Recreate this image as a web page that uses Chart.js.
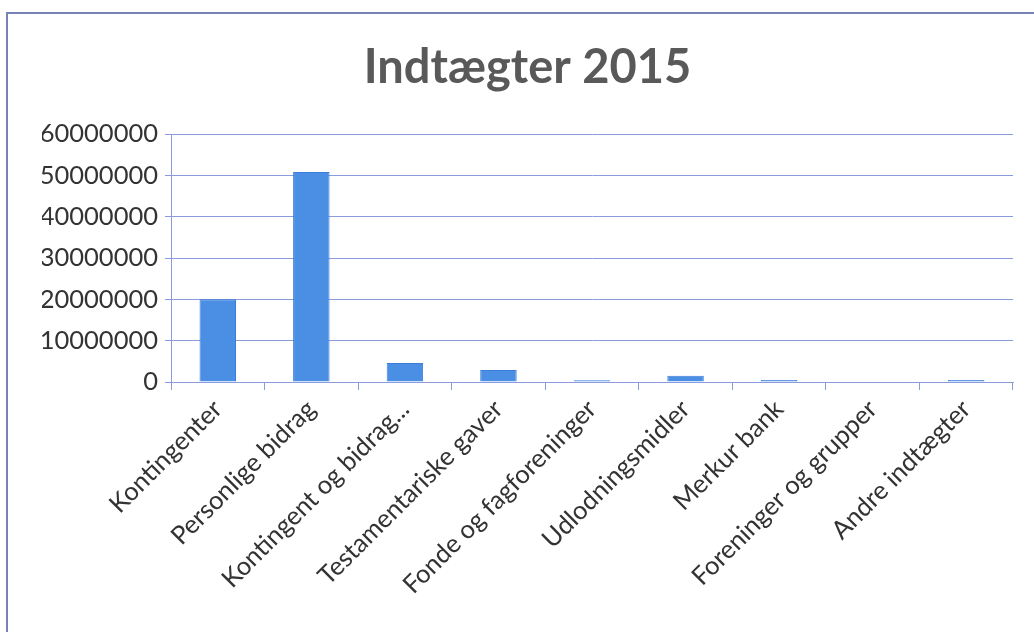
<!DOCTYPE html>
<html>
<head>
<meta charset="utf-8">
<script src="https://cdn.jsdelivr.net/npm/chart.js@4/dist/chart.umd.min.js"></script>
<style>
    html, body { margin: 0; padding: 0; background: #ffffff; overflow: hidden; }
    #ramme {
        position: absolute; left: 6px; top: 12px; width: 1100px; height: 700px;
        border: 2px solid #7584b4; box-sizing: border-box;
    }
    #boks { position: absolute; left: 0; top: 0; width: 1034px; height: 632px; }
</style>
</head>
<body>
<div id="ramme"></div>
<div id="boks"><canvas id="chartBar" width="1034" height="632"></canvas></div>
<script>
// kategorier og beløb
const kategorier = [
    'Kontingenter',
    'Personlige bidrag',
    'Kontingent og bidrag...',
    'Testamentariske gaver',
    'Fonde og fagforeninger',
    'Udlodningsmidler',
    'Merkur bank',
    'Foreninger og grupper',
    'Andre indtægter'
]
const indtaegter = [20000000, 50800000, 4600000, 2900000, 400000, 1500000, 500000, 0, 500000]
const yTicks = [0, 10000000, 20000000, 30000000, 40000000, 50000000, 60000000]

const configBar = document.getElementById('chartBar');

var dadosBar = {
    labels: kategorier,
    datasets: [{
        label: 'Indtægter 2015',
        data: indtaegter,
        backgroundColor: '#4a8fe4',
        borderColor: '#3b7dd6',
        borderWidth: 1,
        categoryPercentage: 1,
        barPercentage: 0.39
    }]
}

var graficoBar = new Chart(configBar, {
    type: 'bar',
    data: dadosBar,
    options: {
        responsive: false,
        animation: false,
        layout: {
            padding: { left: 42, right: 21, top: 0, bottom: 0 }
        },
        scales: {
            y: {
                min: 0,
                max: 60000000,
                afterBuildTicks: function (scale) {
                    scale.ticks = yTicks.map(v => ({ value: v }))
                },
                afterFit: function (scale) {
                    scale.width = 129
                },
                border: { color: '#8c9be0', width: 1 },
                grid: { color: '#8c9be0', lineWidth: 1, tickLength: 6 },
                ticks: {
                    padding: 7,
                    color: '#333333',
                    font: { family: 'Lato', size: 25.5 },
                    callback: function (v) { return String(v) }
                }
            },
            x: {
                afterFit: function (scale) {
                    scale.height = 250
                },
                border: { color: '#8c9be0', width: 1 },
                grid: { offset: true, drawOnChartArea: false, color: '#8c9be0', tickLength: 8 },
                ticks: {
                    minRotation: 45,
                    maxRotation: 45,
                    autoSkip: false,
                    padding: 4,
                    color: '#333333',
                    font: { family: 'Lato', size: 25.5 }
                }
            }
        },
        plugins: {
            legend: { display: false },
            tooltip: { enabled: false },
            title: {
                display: true,
                text: 'Indtægter 2015',
                color: '#595959',
                font: { family: 'Lato', size: 47, weight: 'bold', lineHeight: 1.2 },
                padding: { top: 40, bottom: 37.6 }
            }
        }
    }
});
</script>
</body>
</html>
